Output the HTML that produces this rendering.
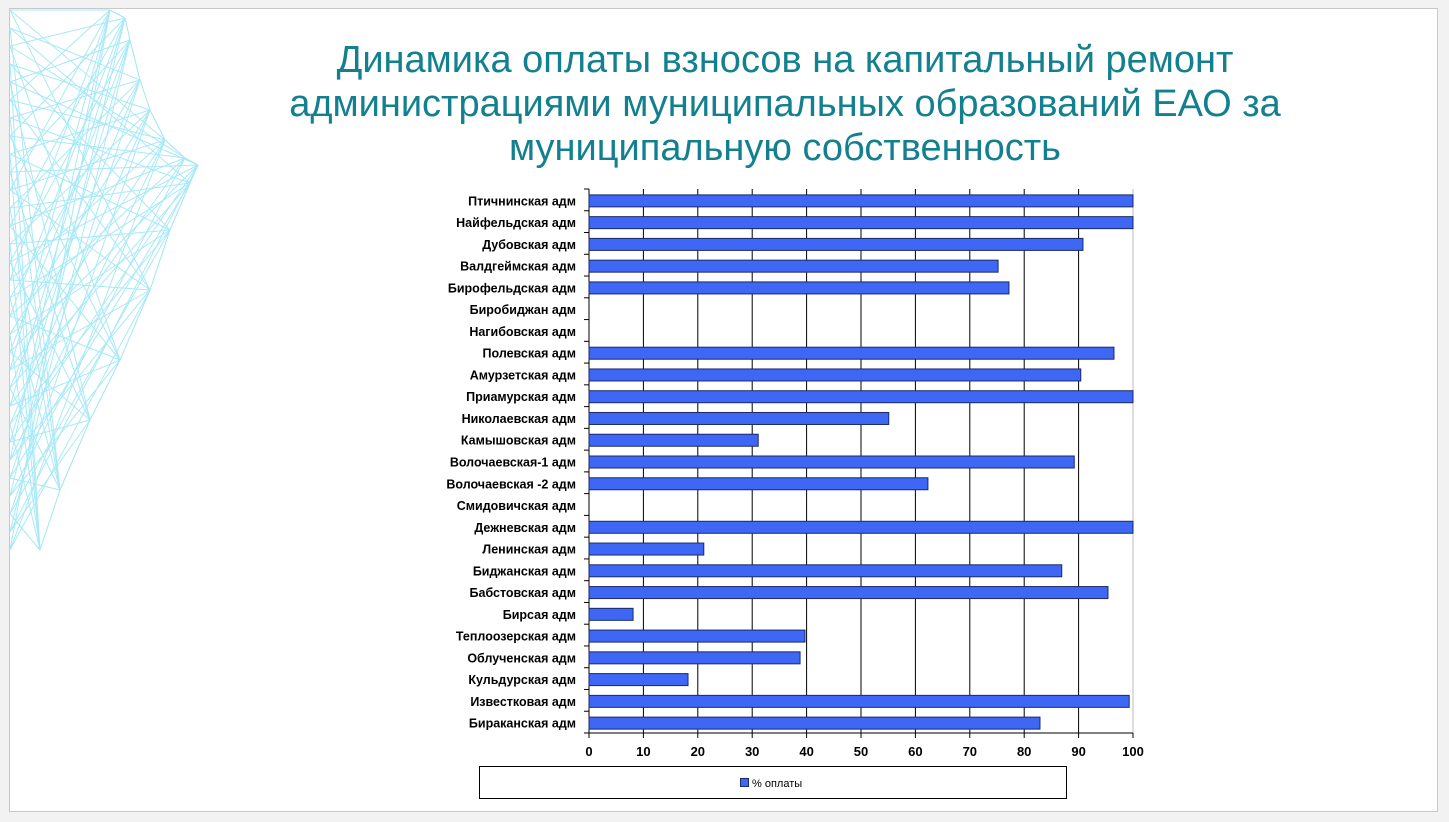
<!DOCTYPE html>
<html><head><meta charset="utf-8"><style>
body{margin:0;width:1449px;height:822px;background:#f2f2f2;position:relative;overflow:hidden;font-family:"Liberation Sans","DejaVu Sans",sans-serif}
#slide{position:absolute;left:9px;top:8px;width:1429px;height:804px;background:#fff;border:1px solid #c8c8c8;box-sizing:border-box}
#title{position:absolute;left:235px;width:1100px;top:38px;text-align:center;color:#12808f;font-size:38px;line-height:44px;font-family:"Liberation Sans","DejaVu Sans",sans-serif}
</style></head><body>
<div id="slide"></div>
<svg id="deco" width="220" height="570" style="position:absolute;left:0;top:0"></svg>
<div id="title">Динамика оплаты взносов на капитальный ремонт администрациями муниципальных образований ЕАО за муниципальную собственность</div>
<svg id="chart" width="1449" height="822" style="position:absolute;left:0;top:0"></svg>
<script>
const categories=["Птичнинская адм","Найфельдская адм","Дубовская адм","Валдгеймская адм","Бирофельдская адм","Биробиджан адм","Нагибовская адм","Полевская адм","Амурзетская адм","Приамурская адм","Николаевская адм","Камышовская адм","Волочаевская-1 адм","Волочаевская -2 адм","Смидовичская адм","Дежневская адм","Ленинская адм","Биджанская адм","Бабстовская адм","Бирсая адм","Теплоозерская адм","Облученская адм","Кульдурская адм","Известковая адм","Бираканская адм"];
const values=[100,100,90.8,75.2,77.2,0,0,96.5,90.4,100,55.1,31.1,89.2,62.3,0,100,21.1,86.9,95.4,8.1,39.7,38.8,18.2,99.3,82.9];
const ticks=[0,10,20,30,40,50,60,70,80,90,100];
const NS="http://www.w3.org/2000/svg";
function mk(p,t,a){const e=document.createElementNS(NS,t);for(const k in a)e.setAttribute(k,a[k]);p.appendChild(e);return e;}
// decoration
const d=document.getElementById('deco');
const outline=[[110,10],[125,18],[130,40],[140,80],[150,110],[165,140],[185,158],[198,165],[190,183],[170,230],[150,290],[120,360],[90,420],[60,490],[40,550]];
const left=[];for(let y=10;y<=550;y+=18)left.push([10,y]);
for(let i=0;i<outline.length-1;i++){const l=mk(d,'line',{x1:outline[i][0],y1:outline[i][1],x2:outline[i+1][0],y2:outline[i+1][1],stroke:'#9fe6f5','stroke-width':1});}
for(let i=0;i<left.length;i++){for(let j=0;j<3;j++){const o=outline[(i*3+j*5)%outline.length];const l=mk(d,'line',{x1:left[i][0],y1:left[i][1],x2:o[0],y2:o[1],stroke:'#a8e9f7','stroke-width':1});}}
// chart
const s=document.getElementById('chart');
const X0=589,X1=1133,Y0=189,Y1=733;
const xs=v=>X0+(X1-X0)*v/100;
const band=(Y1-Y0)/categories.length;
const ys=i=>Y0+band*i;
ticks.forEach(t=>{
 if(t>0){const g=mk(s,'line',{x1:xs(t),y1:Y0,x2:xs(t),y2:Y1,stroke:t==100?'#bbb':'#000','stroke-width':1});}
 const tk=mk(s,'line',{x1:xs(t),y1:Y1,x2:xs(t),y2:Y1+5,stroke:'#000'});
 const tx=mk(s,'text',{x:xs(t),y:Y1+23,'text-anchor':'middle','font-size':13,'font-weight':'bold',fill:'#000'});tx.textContent=t;
 
});
const ax=mk(s,'line',{x1:X0,y1:Y0,x2:X0,y2:Y1,stroke:'#000'});
const bx=mk(s,'line',{x1:X0,y1:Y1,x2:X1,y2:Y1,stroke:'#000'});
for(let i=0;i<=categories.length;i++){const t=mk(s,'line',{x1:X0-5,y1:ys(i),x2:X0,y2:ys(i),stroke:'#000'});}
categories.forEach((c,i)=>{
 const yc=ys(i)+band/2+1;
 const t=mk(s,'text',{x:576,y:yc+4.5,'text-anchor':'end','font-size':12.5,'font-weight':'bold',fill:'#000'});t.textContent=c;
 
 if(values[i]>0){const r=mk(s,'rect',{x:X0,y:yc-6,width:xs(values[i])-X0,height:12,fill:'#3f67f5',stroke:'#1a2a66','stroke-width':1});
 }
});
const lg=mk(s,'rect',{x:479.5,y:766.5,width:587,height:32,fill:'#fff',stroke:'#000'});
const ls=mk(s,'rect',{x:740.5,y:778.5,width:8,height:8,fill:'#3f67f5',stroke:'#1a2a66'});
const lt=mk(s,'text',{x:752,y:787,'font-size':11,fill:'#000'});lt.textContent='% оплаты';
</script>
</body></html>
